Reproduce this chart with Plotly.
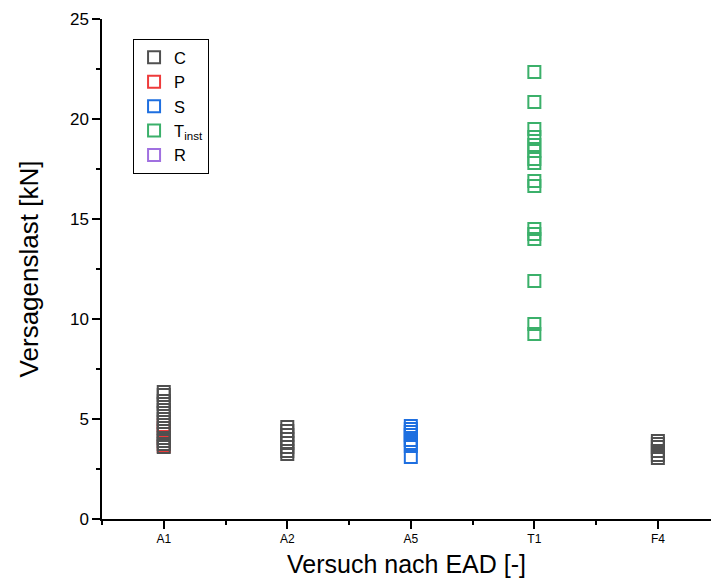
import plotly.graph_objects as go

categories = ["A1", "A2", "A5", "T1", "F4"]
cat_pos = [1, 2, 3, 4, 5]

# Series values (kN)
C_A1 = [6.35, 6.2, 5.9, 5.75, 5.45, 5.3, 5.0, 4.85, 4.55, 4.25, 4.05, 3.9, 3.75, 3.6]
C_A2 = [4.6, 4.4, 4.2, 4.0, 3.8, 3.6, 3.4, 3.25]
C_F4 = [3.9, 3.75, 3.6, 3.4, 3.2, 3.05]
P_A1 = [4.7, 4.4, 3.65]
S_A5 = [4.65, 4.5, 4.35, 4.2, 3.95, 3.8, 3.65, 3.1]
T_T1 = [22.35, 20.85, 19.5, 19.1, 18.7, 18.4, 18.0, 17.8, 16.9, 16.65,
        14.5, 14.25, 14.0, 11.9, 9.75, 9.25]

colors = {"C": "#505050", "P": "#ee3b3b", "S": "#1e6fe0", "T": "#3bb06a", "R": "#a070e0"}

fig = go.Figure()

def add(name, xs, ys, color, rank):
    fig.add_trace(go.Scatter(
        x=xs, y=ys, mode="markers", name=name, legendrank=rank,
        marker=dict(symbol="square-open", size=12, color=color, line=dict(width=2, color=color)),
    ))

# P drawn first so the C squares lie on top of it
add("P", [cat_pos[0]] * len(P_A1), P_A1, colors["P"], 2)
add("C", [cat_pos[0]] * len(C_A1) + [cat_pos[1]] * len(C_A2) + [cat_pos[4]] * len(C_F4),
    C_A1 + C_A2 + C_F4, colors["C"], 1)
add("S", [cat_pos[2]] * len(S_A5), S_A5, colors["S"], 3)
add("T<sub>inst</sub>", [cat_pos[3]] * len(T_T1), T_T1, colors["T"], 4)
add("R", [None], [None], colors["R"], 5)

fig.update_layout(
    width=711, height=587,
    margin=dict(l=102, r=0, t=19, b=68),
    plot_bgcolor="white", paper_bgcolor="white",
    font=dict(family="Liberation Sans, Arial", color="black"),
    showlegend=True,
    legend=dict(
        x=0.051, y=0.96, xanchor="left", yanchor="top",
        bordercolor="black", borderwidth=1, bgcolor="white",
        font=dict(size=16.5), itemsizing="constant", tracegroupgap=0,
        traceorder="normal",
    ),
    xaxis=dict(
        range=[0.5, 5.43], tickmode="array", tickvals=cat_pos, ticktext=categories,
        showgrid=False, zeroline=False, showline=True, linecolor="black", linewidth=1.5,
        ticks="outside", ticklen=8, tickwidth=1.5, tickcolor="black",
        tickfont=dict(size=12),
        minor=dict(tickmode="linear", tick0=0.5, dtick=1, ticks="outside", ticklen=4,
                   tickwidth=1.5, tickcolor="black", showgrid=False),
        title=dict(text="Versuch nach EAD [-]", font=dict(size=25), standoff=10),
    ),
    yaxis=dict(
        range=[0, 25], tickmode="linear", tick0=0, dtick=5,
        showgrid=False, zeroline=False, showline=True, linecolor="black", linewidth=1.5,
        ticks="outside", ticklen=8, tickwidth=1.5, tickcolor="black",
        tickfont=dict(size=17),
        minor=dict(tickmode="linear", tick0=0, dtick=2.5, ticks="outside", ticklen=4,
                   tickwidth=1.5, tickcolor="black", showgrid=False),
        title=dict(text="Versagenslast [kN]", font=dict(size=26), standoff=24),
    ),
)

fig.write_html("out.html")
